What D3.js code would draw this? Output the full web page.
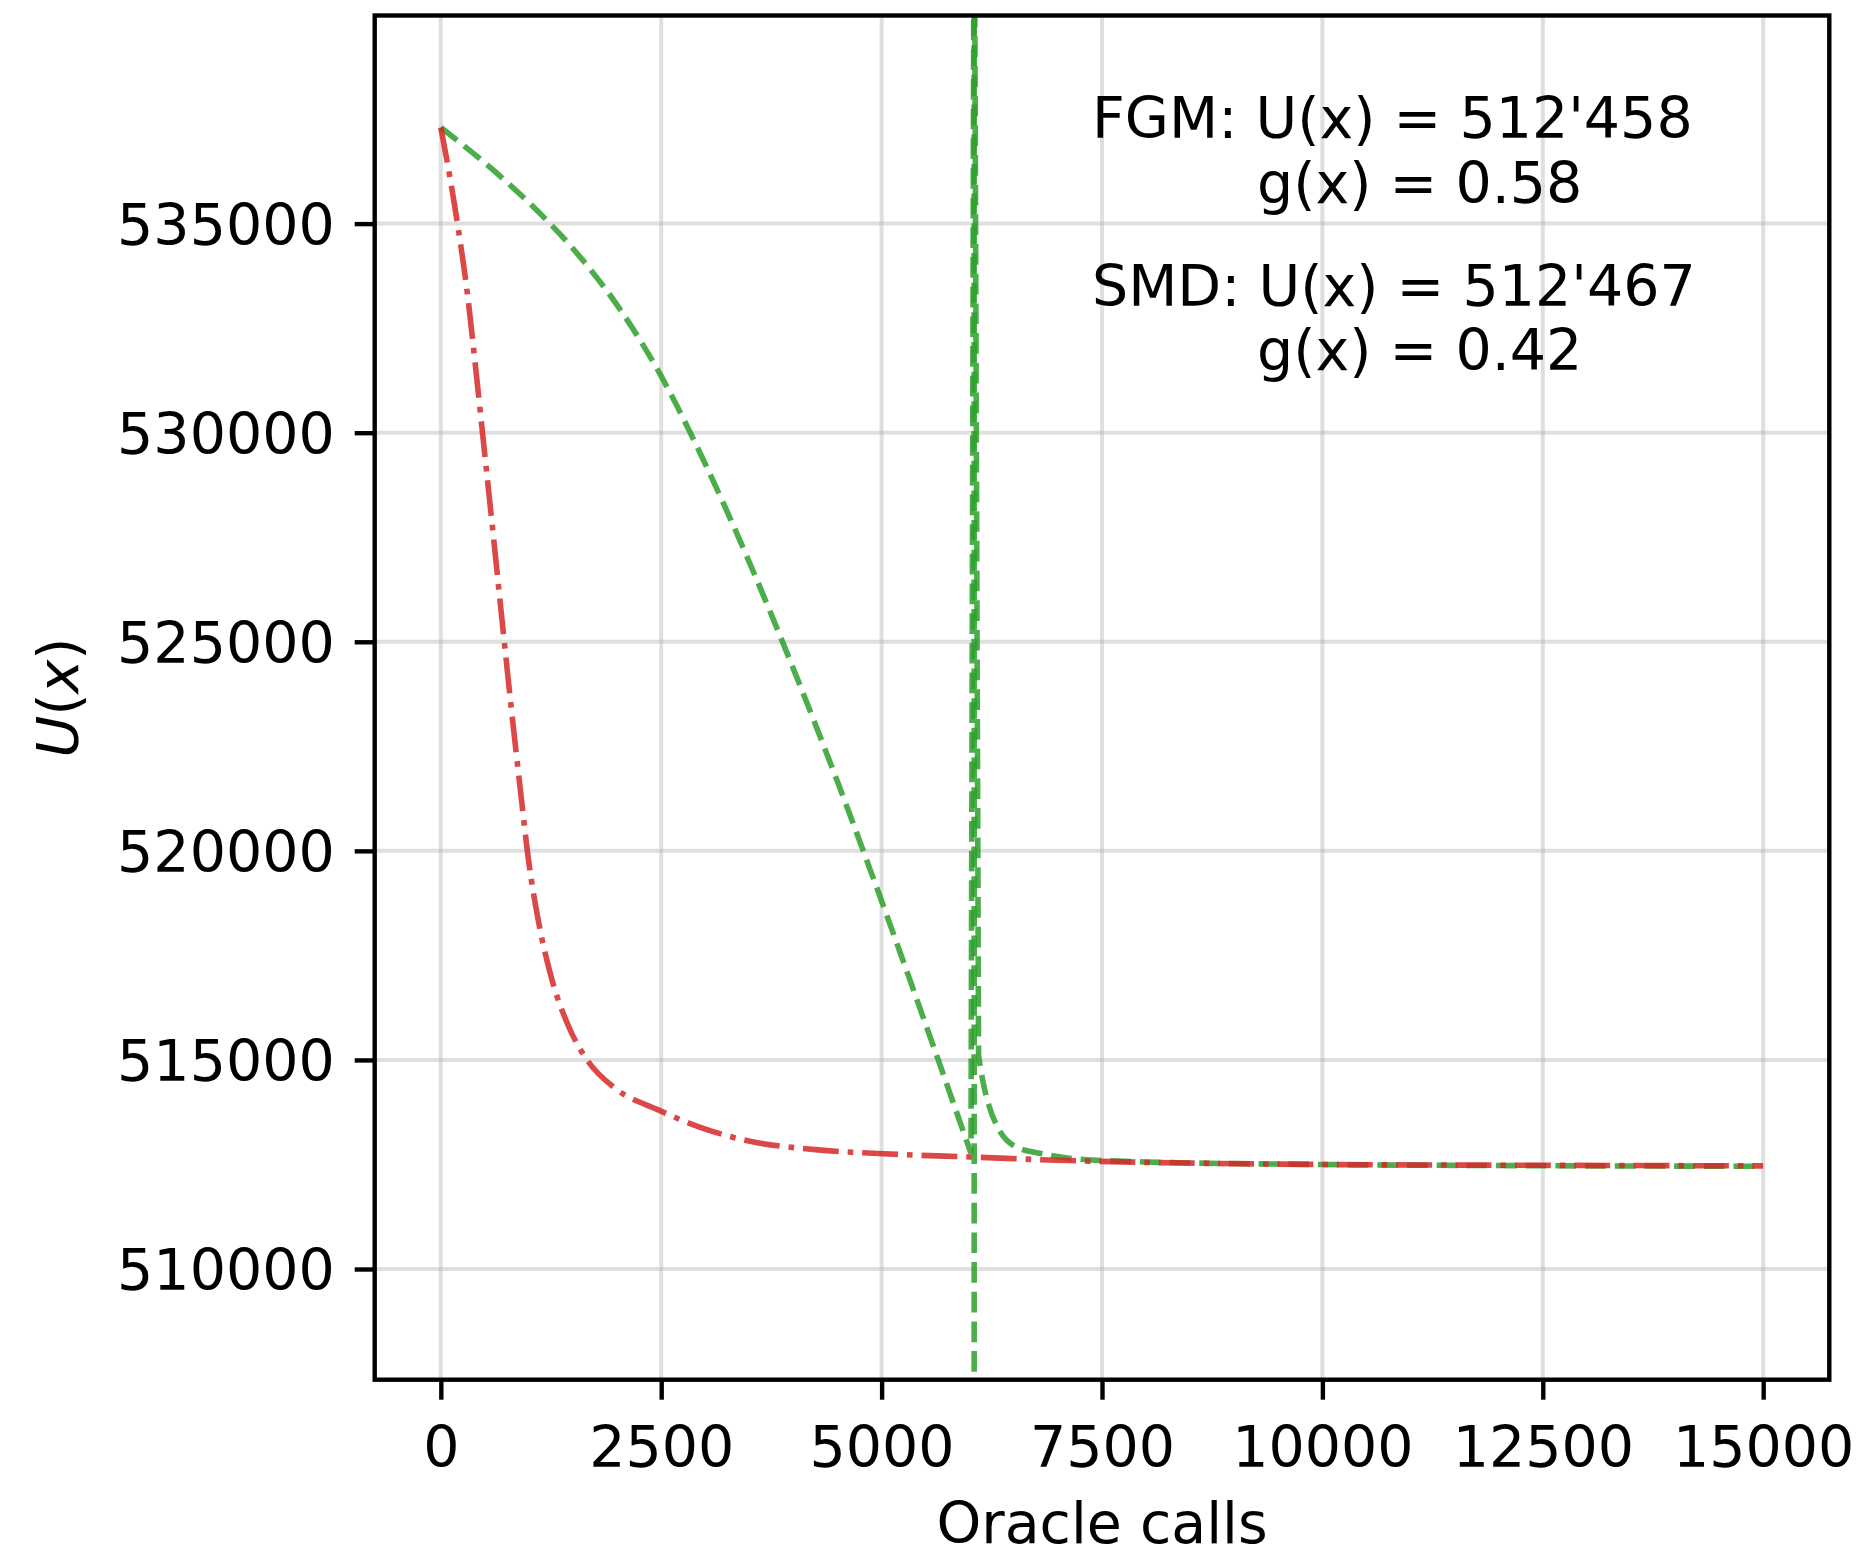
<!DOCTYPE html>
<html>
<head>
<meta charset="utf-8">
<script src="https://cdn.jsdelivr.net/npm/d3@7"></script>
<style>
  html, body { margin: 0; padding: 0; background: #ffffff; }
  svg { display: block; }
  text { font-family: "DejaVu Sans", sans-serif; fill: #000; }
</style>
</head>
<body>
<svg id="chart" width="1865" height="1555"></svg>
<script>
// ---------------- data ----------------
const xTicks = [0, 2500, 5000, 7500, 10000, 12500, 15000];
const yTicks = [510000, 515000, 520000, 525000, 530000, 535000];

// FGM (green, dashed)
const fgmCalls = [0, 500, 1000, 1500, 2000, 2500, 3000, 3500, 4000, 4500, 5000, 5500, 6014,
                  6050, 6100, 6146, 6222, 6335, 6525, 6790, 7130, 8000, 10000, 12500, 15000];
const fgmU     = [537300, 536450, 535500, 534400, 533050, 531350, 529250, 526900, 524350, 521650, 518800, 515850, 512766,
                  544400, 515100, 514520, 513880, 513320, 512920, 512770, 512650, 512560, 512500, 512470, 512458];
// indices where the FGM trace restarts (jump segments drawn straight)
const fgmJumpStart = 12, fgmJumpEnd = 14;

// SMD (red, dash-dot)
const smdCalls = [0, 100, 200, 300, 400, 500, 600, 700, 800, 900, 1000, 1100, 1250, 1450, 1676, 1979, 2472, 2926, 3494, 4252, 5199, 6000, 7000, 8600, 10000, 12500, 15000];
const smdU     = [537300, 536150, 534850, 533350, 531450, 529450, 527450, 525400, 523400, 521500, 519700, 518400, 517000, 515800, 514950, 514320, 513800, 513400, 513060, 512855, 512740, 512680, 512600, 512530, 512500, 512480, 512467];

// vertical marker (oracle calls)
const markerCalls = [6050];

// annotation text
const annotLines = [
  "FGM: U(x) = 512'458",
  "g(x) = 0.58",
  "SMD: U(x) = 512'467",
  "g(x) = 0.42"
];

const xLabel = "Oracle calls";

// ---------------- layout ----------------
const mL = 374.7, mR = 1829.3, mT = 15.5, mB = 1379.7;
const FS = 57;
const svg = d3.select("#chart");

const x = d3.scaleLinear().domain([-750, 15750]).range([mL, mR]);
const y = d3.scaleLinear().domain([507353, 539977]).range([mB, mT]);

// clip
svg.append("defs").append("clipPath").attr("id", "clip")
  .append("rect").attr("x", mL).attr("y", mT).attr("width", mR - mL).attr("height", mB - mT);

// grid
const grid = svg.append("g");
grid.selectAll("line.gx").data(xTicks).join("line")
  .attr("x1", d => x(d)).attr("x2", d => x(d)).attr("y1", mT).attr("y2", mB)
  .attr("stroke", "#b0b0b0").attr("stroke-opacity", 0.4).attr("stroke-width", 4);
grid.selectAll("line.gy").data(yTicks).join("line")
  .attr("y1", d => y(d)).attr("y2", d => y(d)).attr("x1", mL).attr("x2", mR)
  .attr("stroke", "#b0b0b0").attr("stroke-opacity", 0.4).attr("stroke-width", 4);

// lines
const plot = svg.append("g").attr("clip-path", "url(#clip)");
const lw = 5.6;
const smooth = d3.line().x(d => x(d[0])).y(d => y(d[1])).curve(d3.curveMonotoneX);
const straight = d3.line().x(d => x(d[0])).y(d => y(d[1]));

const fgm = fgmCalls.map((c, i) => [c, fgmU[i]]);
const smd = smdCalls.map((c, i) => [c, smdU[i]]);

// FGM path: smooth descent, straight jump, smooth recovery (one continuous path)
const fgmD = smooth(fgm.slice(0, fgmJumpStart + 1))
  + straight(fgm.slice(fgmJumpStart, fgmJumpEnd + 1)).replace(/^M/, "L")
  + smooth(fgm.slice(fgmJumpEnd)).replace(/^M/, "L");

plot.append("path")
  .attr("d", fgmD).attr("fill", "none")
  .attr("stroke", "#2ca02c").attr("stroke-opacity", 0.85).attr("stroke-width", lw)
  .attr("stroke-dasharray", `${3.7*lw},${1.6*lw}`);

plot.append("path").datum(smd)
  .attr("d", smooth).attr("fill", "none")
  .attr("stroke", "#d62728").attr("stroke-opacity", 0.85).attr("stroke-width", lw)
  .attr("stroke-dasharray", `${6.4*lw},${1.6*lw},${1*lw},${1.6*lw}`);

plot.selectAll("line.marker").data(markerCalls).join("line")
  .attr("x1", d => x(d)).attr("x2", d => x(d)).attr("y1", mT).attr("y2", mB)
  .attr("stroke", "#2ca02c").attr("stroke-opacity", 0.85).attr("stroke-width", lw)
  .attr("stroke-dasharray", `${3.7*lw},${1.6*lw}`);

// axes
const xAxis = d3.axisBottom(x).tickValues(xTicks).tickSize(20).tickPadding(20).tickFormat(d3.format("d"));
const yAxis = d3.axisLeft(y).tickValues(yTicks).tickSize(20).tickPadding(20).tickFormat(d3.format("d"));

const gx = svg.append("g").attr("transform", `translate(0,${mB})`).call(xAxis);
const gy = svg.append("g").attr("transform", `translate(${mL},0)`).call(yAxis);
[gx, gy].forEach(g => {
  g.select(".domain").remove();
  g.selectAll(".tick line").attr("stroke", "#000").attr("stroke-width", 4.4);
  g.selectAll(".tick text").attr("font-size", FS).attr("font-family", "DejaVu Sans").attr("fill", "#000");
});
gx.selectAll(".tick text").attr("dy", null).attr("y", 87);
gy.selectAll(".tick text").attr("dy", "0.36em");

// frame
svg.append("rect").attr("x", mL).attr("y", mT).attr("width", mR - mL).attr("height", mB - mT)
  .attr("fill", "none").attr("stroke", "#000").attr("stroke-width", 4.4);

// axis labels
svg.append("text").attr("x", (mL + mR) / 2).attr("y", 1543)
  .attr("text-anchor", "middle").attr("font-size", FS).text(xLabel);

const yl = svg.append("text")
  .attr("transform", `translate(78,${(mT + mB) / 2}) rotate(-90)`)
  .attr("text-anchor", "middle").attr("font-size", FS);
yl.append("tspan").attr("font-style", "italic").text("U");
yl.append("tspan").text("(");
yl.append("tspan").attr("font-style", "italic").text("x");
yl.append("tspan").text(")");

// annotation
const annotPos = [[1092, 138], [1257, 203], [1092, 306], [1257, 370]];
svg.selectAll("text.annot").data(annotLines).join("text")
  .attr("class", "annot")
  .attr("x", (d, i) => annotPos[i][0]).attr("y", (d, i) => annotPos[i][1])
  .attr("font-size", FS).text(d => d);
</script>
</body>
</html>
